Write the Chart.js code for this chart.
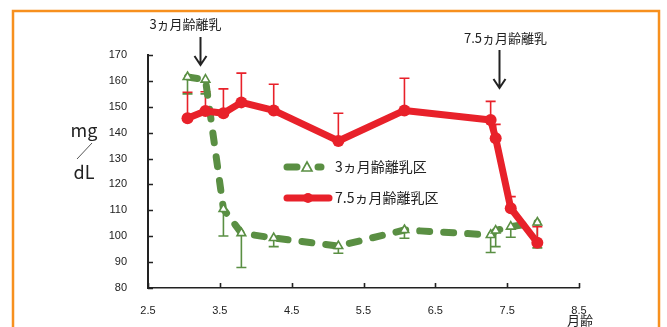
<!DOCTYPE html>
<html>
<head>
<meta charset="utf-8">
<script src="https://cdn.jsdelivr.net/npm/chart.js@4/dist/chart.umd.min.js"></script>
<style>
  html, body { margin: 0; padding: 0; background: #fff; }
  #wrap { position: relative; width: 667px; height: 327px; }
</style>
</head>
<body>
<div id="wrap"><canvas id="c" width="667" height="327"></canvas></div>
<script>
// Age in months at each blood sampling
const ages = [3.05, 3.3, 3.55, 3.8, 4.25, 5.15, 6.07, 7.27, 7.34, 7.55, 7.92];

// Weaned at 3 months: mean and lower error (mg/dL)
const wean3Mean = [161.5, 160.5, 110.5, 101.2, 99.3, 96.2, 102.4, 100.5, 102.2, 103.7, 105.3];
const wean3ErrDown = [6.5, 5.5, 10.4, 13.3, 3.3, 2.8, 3.2, 6.8, 6.2, 4.1, 9.8];

// Weaned at 7.5 months: mean and upper error (mg/dL)
const wean75Mean = [145.6, 148.4, 147.5, 151.7, 148.6, 136.8, 148.6, 144.9, 137.8, 110.8, 97.5];
const wean75ErrUp = [10, 7.4, 9.4, 11.3, 10.1, 10.7, 12.4, 7.2, 5.4, 4.5, 6.2];

const seriesNames = ['3ヵ月齢離乳区', '7.5ヵ月齢離乳区'];
const yTickValues = [80, 90, 100, 110, 120, 130, 140, 150, 160, 170];
const xTickValues = [2.5, 3.5, 4.5, 5.5, 6.5, 7.5, 8.5];
const weaningAges = [3.22, 7.38];
const weaningLabels = ['3ヵ月齢離乳', '7.5ヵ月齢離乳'];
const yUnitTop = 'mg';
const yUnitBottom = 'dL';
const xTitle = '月齢';

const GREEN = '#5a8f43';
const RED = '#e8212a';
const INK = '#222';
const JP = '"Noto Sans CJK JP", "Noto Sans", sans-serif';
const NUM = '"Liberation Sans", Arial, sans-serif';

const toPoints = (ys) => ages.map((a, i) => ({ x: a, y: ys[i] }));

// Error bars: upper whiskers for the 7.5-month group, lower for the 3-month group
const errorBars = {
  id: 'errorBars',
  beforeDatasetsDraw(chart) {
    const { ctx, scales: { x, y } } = chart;
    const draw = (means, errs, sign, color) => {
      ctx.save();
      ctx.strokeStyle = color;
      ctx.lineWidth = 1.6;
      means.forEach((m, i) => {
        const px = x.getPixelForValue(ages[i]);
        const y0 = y.getPixelForValue(m);
        const y1 = y.getPixelForValue(m + sign * errs[i]);
        ctx.beginPath();
        ctx.moveTo(px, y0); ctx.lineTo(px, y1);
        ctx.moveTo(px - 5, y1); ctx.lineTo(px + 5, y1);
        ctx.stroke();
      });
      ctx.restore();
    };
    draw(wean3Mean, wean3ErrDown, -1, GREEN);
    draw(wean75Mean, wean75ErrUp, 1, RED);
  }
};

// Frame, inward ticks, unit labels, weaning arrows and legend
const decorations = {
  id: 'decorations',
  afterDraw(chart) {
    const { ctx, chartArea: ca, scales: { x, y } } = chart;
    ctx.save();

    // orange frame
    ctx.strokeStyle = '#f7901e';
    ctx.lineWidth = 2.5;
    ctx.strokeRect(13, 11, 646, 340);

    // inward tick marks
    ctx.strokeStyle = INK;
    ctx.lineWidth = 1.6;
    ctx.beginPath();
    yTickValues.forEach(v => {
      const py = Math.round(y.getPixelForValue(v)) + 0.5;
      ctx.moveTo(ca.left, py); ctx.lineTo(ca.left + 5, py);
    });
    xTickValues.forEach(v => {
      const px = Math.round(x.getPixelForValue(v)) + 0.5;
      ctx.moveTo(px, ca.bottom); ctx.lineTo(px, ca.bottom - 5);
    });
    ctx.stroke();

    // y unit: mg / dL
    ctx.fillStyle = INK;
    ctx.textAlign = 'center';
    ctx.textBaseline = 'middle';
    ctx.font = '18px ' + JP;
    ctx.fillText(yUnitTop, 84, 130);
    ctx.fillText(yUnitBottom, 84, 172);
    ctx.strokeStyle = '#555';
    ctx.lineWidth = 1;
    ctx.beginPath();
    ctx.moveTo(92, 143); ctx.lineTo(77, 159);
    ctx.stroke();

    // x title
    ctx.font = '13px ' + JP;
    ctx.fillText(xTitle, 580, 320);

    // weaning arrows
    const arrowSpec = [
      { labelDx: -15, labelY: 24, top: 37, tip: 65 },
      { labelDx: 6, labelY: 38, top: 50, tip: 88 }
    ];
    weaningAges.forEach((age, i) => {
      const s = arrowSpec[i];
      const px = Math.round(x.getPixelForValue(age)) + 0.5;
      ctx.fillStyle = INK;
      ctx.font = '13px ' + JP;
      ctx.fillText(weaningLabels[i], px + s.labelDx, s.labelY);
      ctx.strokeStyle = INK;
      ctx.lineWidth = 2;
      ctx.beginPath();
      ctx.moveTo(px, s.top); ctx.lineTo(px, s.tip);
      ctx.moveTo(px - 6, s.tip - 9); ctx.lineTo(px, s.tip); ctx.lineTo(px + 6, s.tip - 9);
      ctx.stroke();
    });

    // legend
    const legendRows = [
      { y: 167, ds: chart.data.datasets[0], segs: [[287, 297], [318, 321]], mx: 307 },
      { y: 198, ds: chart.data.datasets[1], segs: [[287, 329]], mx: 308 }
    ];
    legendRows.forEach((r, i) => {
      const ds = r.ds;
      ctx.save();
      ctx.strokeStyle = ds.borderColor;
      ctx.lineWidth = ds.borderWidth;
      ctx.lineCap = 'round';
      ctx.beginPath();
      r.segs.forEach(([a, b]) => { ctx.moveTo(a, r.y); ctx.lineTo(b, r.y); });
      ctx.stroke();
      ctx.restore();
      if (i === 0) {
        ctx.save();
        ctx.fillStyle = '#fff';
        ctx.strokeStyle = GREEN;
        ctx.lineWidth = 1.6;
        ctx.beginPath();
        ctx.moveTo(r.mx, r.y - 5); ctx.lineTo(r.mx + 5, r.y + 4); ctx.lineTo(r.mx - 5, r.y + 4);
        ctx.closePath(); ctx.fill(); ctx.stroke();
        ctx.restore();
      } else {
        ctx.fillStyle = RED;
        ctx.beginPath(); ctx.arc(r.mx, r.y, 5, 0, Math.PI * 2); ctx.fill();
      }
      ctx.fillStyle = INK;
      ctx.textAlign = 'left';
      ctx.font = '14px ' + JP;
      ctx.fillText(ds.label, 335, r.y);
    });

    ctx.restore();
  }
};

new Chart(document.getElementById('c'), {
  type: 'line',
  data: {
    datasets: [
      {
        label: seriesNames[0],
        data: toPoints(wean3Mean),
        borderColor: GREEN,
        borderWidth: 7,
        borderDash: [10, 14],
        borderCapStyle: 'round',
        borderJoinStyle: 'round',
        pointStyle: 'triangle',
        pointRadius: 5,
        pointBackgroundColor: '#fff',
        pointBorderColor: GREEN,
        pointBorderWidth: 1.6,
        tension: 0,
        order: 1
      },
      {
        label: seriesNames[1],
        data: toPoints(wean75Mean),
        borderColor: RED,
        borderWidth: 7,
        borderCapStyle: 'round',
        borderJoinStyle: 'round',
        pointStyle: 'circle',
        pointRadius: 6,
        pointBackgroundColor: RED,
        pointBorderColor: RED,
        pointBorderWidth: 0,
        tension: 0,
        order: 0
      }
    ]
  },
  options: {
    responsive: false,
    animation: false,
    devicePixelRatio: 1,
    layout: { padding: { left: 0, right: 88, top: 55, bottom: 0 } },
    plugins: { legend: { display: false }, tooltip: { enabled: false } },
    scales: {
      x: {
        type: 'linear',
        min: 2.5, max: 8.5,
        afterBuildTicks: (s) => { s.ticks = xTickValues.map(v => ({ value: v })); },
        afterFit: (s) => { s.height = 39; },
        grid: { display: false },
        border: { display: true, color: INK, width: 1.6 },
        ticks: {
          color: INK, padding: 8, maxRotation: 0,
          font: { family: NUM, size: 11 },
          callback: (v) => v.toFixed(1)
        }
      },
      y: {
        min: 80, max: 170,
        afterBuildTicks: (s) => { s.ticks = yTickValues.map(v => ({ value: v })); },
        afterFit: (s) => { s.width = 148; },
        grid: { display: false },
        border: { display: true, color: INK, width: 2 },
        ticks: {
          color: INK, padding: 13,
          font: { family: NUM, size: 11 }
        }
      }
    }
  },
  plugins: [errorBars, decorations]
});
</script>
</body>
</html>
